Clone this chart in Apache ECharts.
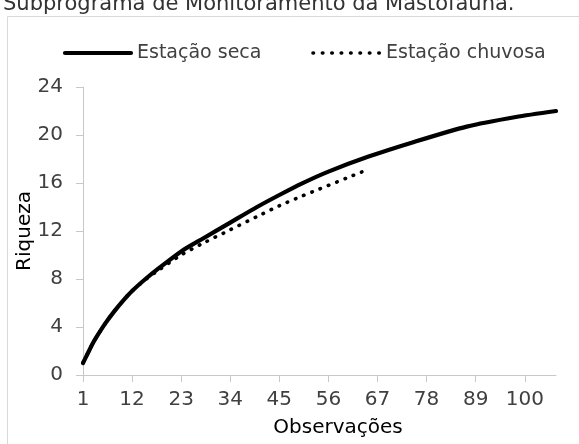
<!DOCTYPE html>
<html>
<head>
<meta charset="utf-8">
<script src="https://cdn.jsdelivr.net/npm/echarts@6/dist/echarts.min.js"></script>
<style>
html,body{margin:0;padding:0;background:#fff;}
#c{width:579px;height:444px;}
</style>
</head>
<body>
<div id="c"></div>
<script>
var categories = ['1','2','3','4','5','6','7','8','9','10','11','12','13','14','15','16','17','18','19','20',
'21','22','23','24','25','26','27','28','29','30','31','32','33','34','35','36','37','38','39','40',
'41','42','43','44','45','46','47','48','49','50','51','52','53','54','55','56','57','58','59','60',
'61','62','63','64','65','66','67','68','69','70','71','72','73','74','75','76','77','78','79','80',
'81','82','83','84','85','86','87','88','89','90','91','92','93','94','95','96','97','98','99','100',
'101','102','103','104','105','106','107'];
var secaObs = [1, 2, 3, 4, 6, 8, 10, 12, 15, 18, 23, 28, 34, 40, 45, 50, 56, 65, 75, 87, 98, 107];
var secaVal = [1.0, 1.75, 2.5, 3.15, 4.3, 5.3, 6.2, 7.0, 8.0, 8.9, 10.3, 11.4, 12.7, 14.0, 15.0, 15.95, 16.95, 18.2, 19.4, 20.7, 21.5, 22.0];
var chuvObs = [1, 2, 3, 4, 6, 8, 10, 12, 15, 18, 23, 28, 34, 40, 45, 50, 54, 60, 64];
var chuvVal = [1.0, 1.75, 2.5, 3.15, 4.3, 5.3, 6.2, 7.0, 7.95, 8.75, 10.0, 11.0, 12.1, 13.2, 14.1, 14.9, 15.5, 16.4, 17.0];
var yTicks = [0, 4, 8, 12, 16, 20, 24];
var seriesNames = ['Estação seca', 'Estação chuvosa'];
var titleText = 'Subprograma de Monitoramento da Mastofauna.';
var xName = 'Observações';
var yName = 'Riqueza';

function pairs(obs, vals){ return obs.map(function(o,i){ return [String(o), vals[i]]; }); }

var FONT = 'DejaVu Sans';
var chart = echarts.init(document.getElementById('c'), null, {renderer:'canvas'});
chart.setOption({
  animation:false,
  backgroundColor:'#ffffff',
  textStyle:{fontFamily:FONT},
  grid:{left:83, right:23, top:87, bottom:69, containLabel:false},
  legend:{show:false, data:seriesNames},
  xAxis:{
    type:'category', data:categories, boundaryGap:false,
    axisLine:{lineStyle:{color:'#c8c8c8', width:1}},
    axisTick:{show:true, interval:10, length:7, lineStyle:{color:'#c8c8c8'}},
    axisLabel:{interval:10, fontSize:20, color:'#404040', margin:15, fontFamily:FONT},
    splitLine:{show:false}
  },
  yAxis:{
    type:'value', min:yTicks[0], max:yTicks[yTicks.length-1], interval:4,
    axisLine:{show:true, lineStyle:{color:'#c8c8c8', width:1}},
    axisTick:{show:true, length:7, lineStyle:{color:'#c8c8c8'}},
    axisLabel:{fontSize:20, color:'#404040', margin:20, fontFamily:FONT},
    splitLine:{show:false}
  },
  graphic:[
    {type:'rect', shape:{x:7.5, y:16.5, width:600, height:500}, style:{fill:'none', stroke:'#d9d9d9', lineWidth:1}, z:-1},
    {type:'text', x:3, y:-6, style:{text:titleText, font:'21px "DejaVu Sans"', fill:'#333333'}},
    {type:'text', x:25, y:231, rotation:Math.PI/2, style:{text:yName, font:'20px "DejaVu Sans"', fill:'#000000', align:'center', verticalAlign:'middle'}},
    {type:'text', x:338, y:428, style:{text:xName, font:'20px "DejaVu Sans"', fill:'#000000', align:'center', verticalAlign:'middle'}},
    {type:'line', shape:{x1:65, y1:53, x2:131, y2:53}, style:{stroke:'#000000', lineWidth:4.2, lineCap:'round'}},
    {type:'text', x:137, y:53, style:{text:seriesNames[0], font:'19px "DejaVu Sans"', fill:'#404040', verticalAlign:'middle'}},
    {type:'line', shape:{x1:313, y1:53, x2:380, y2:53}, style:{stroke:'#000000', lineWidth:3.6, lineCap:'round', lineDash:[0.5, 8.9]}},
    {type:'text', x:386, y:53, style:{text:seriesNames[1], font:'19px "DejaVu Sans"', fill:'#404040', verticalAlign:'middle'}}
  ],
  series:[
    {name:seriesNames[0], type:'line', data:pairs(secaObs, secaVal), smooth:0.25, showSymbol:false, symbol:'none',
     lineStyle:{color:'#000000', width:4.2, cap:'round'}, itemStyle:{color:'#000000'}, z:3},
    {name:seriesNames[1], type:'line', data:pairs(chuvObs, chuvVal), smooth:0.25, showSymbol:false, symbol:'none',
     lineStyle:{color:'#000000', width:3.6, type:[0.5, 8.4], cap:'round'}, itemStyle:{color:'#000000'}, z:2}
  ]
});
</script>
</body>
</html>
